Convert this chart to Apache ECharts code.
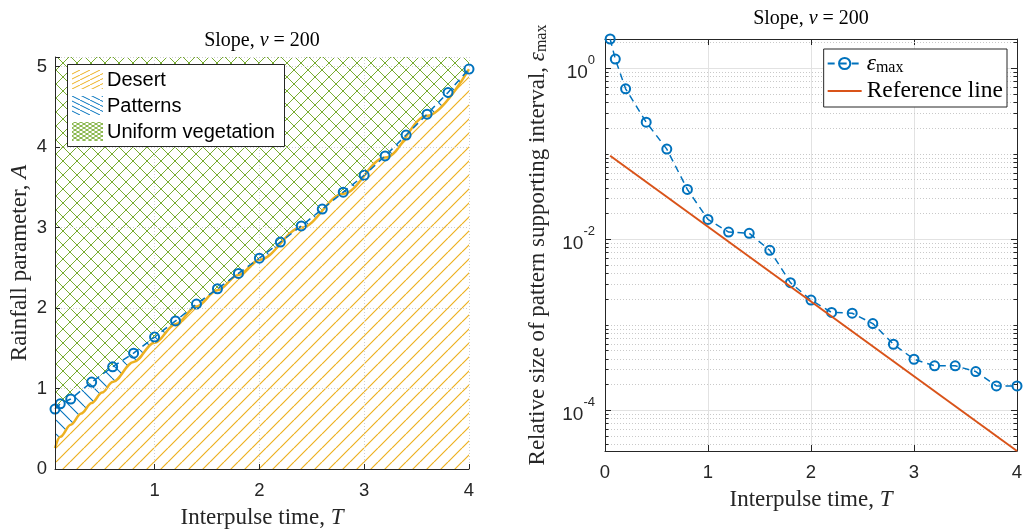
<!DOCTYPE html>
<html>
<head>
<meta charset="utf-8">
<script src="https://cdn.jsdelivr.net/npm/echarts@6/dist/echarts.min.js"></script>
<style>
  html, body { margin: 0; padding: 0; background: #fff; }
  #chart { width: 1031px; height: 530px; }
</style>
</head>
<body>
<div id="chart"></div>
<script>
// ---- data -------------------------------------------------------------
// interpulse times of the computed points
const interpulseT = [0.05, 0.1, 0.2, 0.4, 0.6, 0.8, 1.0, 1.2, 1.4, 1.6, 1.8,
                     2.0, 2.2, 2.4, 2.6, 2.8, 3.0, 3.2, 3.4, 3.6, 3.8, 4.0];
// upper edge of the pattern region (rainfall parameter A)
const patternUpperA = [0.745, 0.81, 0.87, 1.08, 1.27, 1.44, 1.64, 1.84, 2.05, 2.24, 2.43,
                       2.62, 2.82, 3.02, 3.23, 3.44, 3.65, 3.89, 4.15, 4.41, 4.68, 4.97];
// desert boundary
const desertT = [0.05, 0.1, 0.2, 0.3, 0.4, 0.5, 0.6, 0.8, 1.0, 1.2, 1.4, 1.6, 1.8,
                 2.0, 2.4, 2.8, 3.2, 3.6, 4.0];
const desertA = [0.26, 0.40, 0.55, 0.69, 0.82, 0.95, 1.08, 1.33, 1.57, 1.80, 2.02, 2.22, 2.41,
                 2.60, 3.00, 3.42, 3.87, 4.39, 4.97];
// relative size of the pattern supporting interval
const epsMax = [2.19, 1.275, 0.572, 0.233, 0.113, 0.0381, 0.0170, 0.0121, 0.0117, 0.0074, 0.0031,
                0.00194, 0.00139, 0.00136, 0.00103, 0.00059, 0.000394, 0.00033, 0.00033, 0.000283,
                0.000192, 0.000192];
// reference line end points
const refT = [0.05, 4];
const refEps = [0.0945, 3.33e-5];
// labelled decades on the log axis
const logMajorTicks = [1e-4, 1e-2, 1];

// ---- style ------------------------------------------------------------
const BLUE = '#0072BD', ORANGE = '#D95319', YELLOW = '#EDB120', GREEN = '#77AC30';
const AXIS = '#262626';
const SANS = 'Liberation Sans, Arial, sans-serif';
const SERIF = 'Liberation Serif, Times New Roman, serif';

const pairs = (xs, ys) => xs.map((x, i) => [x, ys[i]]);

// hatch tiles: '/' rising lines, '\' falling lines (anti-aliased strokes)
function hatch(w, h, color, dirs, bg, lw) {
  const c = document.createElement('canvas');
  c.width = w; c.height = h;
  const g = c.getContext('2d');
  if (bg) { g.fillStyle = bg; g.fillRect(0, 0, w, h); }
  g.strokeStyle = color;
  g.lineWidth = lw || 1;
  dirs.forEach(d => {
    g.beginPath();
    for (let k = -1; k <= 1; k++) {
      if (d === '/') { g.moveTo(k * w, h); g.lineTo(k * w + w, 0); }
      else { g.moveTo(k * w, 0); g.lineTo(k * w + w, h); }
    }
    g.stroke();
  });
  return { image: c, repeat: 'repeat' };
}
// crisp one-pixel cross hatch on a square tile
function crossHatch(n, color) {
  const c = document.createElement('canvas');
  c.width = c.height = n;
  const g = c.getContext('2d');
  g.fillStyle = color;
  for (let i = 0; i < n; i++) {
    g.fillRect(i, i, 1, 1);
    g.fillRect(i, n - 1 - i, 1, 1);
  }
  return { image: c, repeat: 'repeat' };
}
const desertFill = hatch(14, 14, YELLOW, ['/'], '#ffffff', 1.2);
const patternFill = hatch(14, 14, BLUE, ['\\'], null, 1.1);
const uniformFill = crossHatch(14, GREEN);
const desertSwatch = hatch(10, 5, YELLOW, ['/'], '#ffffff', 1);
const patternSwatch = hatch(10, 5, BLUE, ['\\'], '#ffffff', 1);
const uniformSwatch = hatch(6, 4, GREEN, ['/', '\\'], '#ffffff', 1);

// minor decade positions on the log axis (2..9 x 10^k and unlabelled decades)
const yLogMin = Math.min(...refEps, ...epsMax);
const yLogMax = Math.max(...refEps, ...epsMax);
const logGrid = [];
for (let e = -6; e <= 1; e++) {
  for (let m = 1; m <= 9; m++) {
    const v = m * Math.pow(10, e);
    if (v <= yLogMin * 1.0001 || v >= yLogMax * 0.9999) continue;
    const major = m === 1 && logMajorTicks.some(t => Math.abs(Math.log10(t) - e) < 1e-9);
    logGrid.push([0, v, major ? 1 : 0]);
  }
}

const serifRich = size => ({
  i: { fontFamily: SERIF, fontStyle: 'italic', fontSize: size, color: AXIS },
  s: { fontFamily: SERIF, fontSize: Math.round(size * 0.7), color: AXIS, padding: [Math.round(size * 0.35), 0, 0, 0] }
});

const tickLabel = { fontFamily: SANS, fontSize: 18.5, color: AXIS };

const chart = echarts.init(document.getElementById('chart'), null, { renderer: 'canvas' });

const option = {
  animation: false,
  backgroundColor: '#ffffff',
  color: [GREEN, BLUE, YELLOW, BLUE, AXIS, BLUE, ORANGE],
  grid: [
    { left: 55, top: 57, width: 414, height: 412, containLabel: false, outerBoundsMode: 'none' },
    { left: 605, top: 39, width: 412, height: 412, containLabel: false, outerBoundsMode: 'none' }
  ],
  xAxis: [
    {
      gridIndex: 0, type: 'value', min: 0.05, max: 4, minInterval: 1, maxInterval: 1, z: 4,
      name: 'Interpulse time, {i|T}', nameLocation: 'middle', nameGap: 37,
      nameTextStyle: { fontFamily: SERIF, fontSize: 23, color: AXIS, rich: serifRich(23) },
      axisLine: { show: true, onZero: false, lineStyle: { color: AXIS, width: 1 } },
      axisTick: { show: true, inside: true, length: 5, lineStyle: { color: AXIS } },
      axisLabel: Object.assign({ margin: 12, formatter: v => Number.isInteger(v) ? String(v) : '' }, tickLabel),
      splitLine: { show: true, lineStyle: { color: '#cfcfcf', type: [1, 2], width: 1 } }
    },
    {
      gridIndex: 1, type: 'value', min: 0, max: 4, interval: 1,
      name: 'Interpulse time, {i|T}', nameLocation: 'middle', nameGap: 37,
      nameTextStyle: { fontFamily: SERIF, fontSize: 23, color: AXIS, rich: serifRich(23) },
      axisLine: { show: true, onZero: false, lineStyle: { color: AXIS, width: 1 } },
      axisTick: { show: true, inside: true, length: 6, lineStyle: { color: AXIS } },
      axisLabel: Object.assign({ margin: 12 }, tickLabel),
      splitLine: { show: true, lineStyle: { color: '#e2e2e2', width: 1 } }
    },
    {
      gridIndex: 1, type: 'value', min: 0, max: 4, interval: 1, position: 'top',
      axisLine: { show: true, onZero: false, lineStyle: { color: AXIS, width: 1 } },
      axisTick: { show: true, inside: true, length: 6, lineStyle: { color: AXIS } },
      axisLabel: { show: false },
      splitLine: { show: false }
    }
  ],
  yAxis: [
    {
      gridIndex: 0, type: 'value', min: 0, max: 5.12, interval: 1, z: 4,
      name: 'Rainfall parameter, {i|A}', nameLocation: 'middle', nameGap: 24,
      nameTextStyle: { fontFamily: SERIF, fontSize: 23, color: AXIS, rich: serifRich(23) },
      axisLine: { show: true, onZero: false, lineStyle: { color: AXIS, width: 1 } },
      axisTick: { show: true, inside: true, length: 5, lineStyle: { color: AXIS } },
      axisLabel: Object.assign({ margin: 8, formatter: v => Number.isInteger(v) ? String(v) : '' }, tickLabel),
      splitLine: { show: true, lineStyle: { color: '#cfcfcf', type: [1, 2], width: 1 } }
    },
    {
      gridIndex: 1, type: 'log', logBase: 10, min: yLogMin, max: yLogMax,
      name: 'Relative size of pattern supporting interval, {i|ε}{s|max}',
      nameLocation: 'middle', nameGap: 55,
      nameTextStyle: { fontFamily: SERIF, fontSize: 23, color: AXIS, rich: serifRich(23) },
      axisLine: { show: true, onZero: false, lineStyle: { color: AXIS, width: 1 } },
      axisTick: { show: false },
      axisLabel: {
        margin: 10,
        formatter: v => {
          const e = Math.log10(v), r = Math.round(e);
          if (Math.abs(e - r) > 1e-6) return '';
          if (!logMajorTicks.some(t => Math.abs(Math.log10(t) - r) < 1e-9)) return '';
          return '{b|10}{p|' + r + '}';
        },
        rich: {
          b: { fontFamily: SANS, fontSize: 19, color: AXIS, verticalAlign: 'bottom', lineHeight: 28 },
          p: { fontFamily: SANS, fontSize: 13, color: AXIS, verticalAlign: 'top', lineHeight: 14 }
        }
      },
      splitLine: { show: false }
    },
    {
      gridIndex: 1, type: 'log', logBase: 10, min: yLogMin, max: yLogMax, position: 'right',
      axisLine: { show: true, onZero: false, lineStyle: { color: AXIS, width: 1 } },
      axisTick: { show: false }, axisLabel: { show: false }, splitLine: { show: false }
    }
  ],
  legend: {
    data: ['εmax', { name: 'Reference line', itemStyle: { opacity: 0 } }],
    orient: 'vertical', right: 24, top: 49,
    backgroundColor: '#ffffff', borderColor: AXIS, borderWidth: 1, borderRadius: 0,
    padding: [3, 4, 4, 3], itemGap: 3, itemWidth: 34, itemHeight: 14,
    selectedMode: false,
    textStyle: {
      fontFamily: SERIF, fontSize: 23.5, color: '#000',
      rich: {
        e: { fontFamily: SERIF, fontStyle: 'italic', fontSize: 23.5, color: '#000' },
        s: { fontFamily: SERIF, fontSize: 16, color: '#000', padding: [9, 0, 0, 0] }
      }
    },
    formatter: n => n === 'εmax' ? '{e|ε}{s|max}' : n
  },
  series: [
    // ---- left panel: regions ----
    {
      name: 'Uniform vegetation', type: 'line', xAxisIndex: 0, yAxisIndex: 0, z: 1,
      data: pairs(interpulseT, patternUpperA), showSymbol: false, silent: true,
      itemStyle: { color: GREEN },
      lineStyle: { width: 0, color: GREEN },
      areaStyle: { color: uniformFill, origin: 'end', opacity: 1 }
    },
    {
      name: 'Patterns', type: 'line', xAxisIndex: 0, yAxisIndex: 0, z: 1,
      data: pairs(interpulseT, patternUpperA), showSymbol: false, silent: true,
      itemStyle: { color: BLUE },
      lineStyle: { width: 0, color: BLUE },
      areaStyle: { color: patternFill, origin: 'start', opacity: 1 }
    },
    {
      name: 'Desert', type: 'line', xAxisIndex: 0, yAxisIndex: 0, z: 2,
      data: pairs(desertT, desertA), showSymbol: false, silent: true,
      smooth: 0.35, smoothMonotone: 'x',
      itemStyle: { color: YELLOW },
      lineStyle: { width: 2.5, color: YELLOW },
      areaStyle: { color: desertFill, origin: 'start', opacity: 1 }
    },
    {
      name: 'Pattern boundary', type: 'line', xAxisIndex: 0, yAxisIndex: 0, z: 3,
      data: pairs(interpulseT, patternUpperA),
      symbol: 'circle', symbolSize: 9, showSymbol: true,
      itemStyle: { color: 'rgba(0,0,0,0)', borderColor: BLUE, borderWidth: 2 },
      lineStyle: { color: BLUE, width: 1.5, type: [7, 5] }
    },
    // ---- right panel ----
    {
      name: 'log grid', type: 'custom', xAxisIndex: 1, yAxisIndex: 1, z: 1, silent: true,
      data: logGrid,
      encode: { x: 0, y: 1 },
      renderItem: (params, api) => {
        const v = api.value(1), major = api.value(2) === 1;
        const p0 = api.coord([0, v]), p1 = api.coord([4, v]);
        const y = Math.round(p0[1]) + 0.5;
        const len = major ? 6 : 3.5;
        return {
          type: 'group',
          children: [
            { type: 'line', shape: { x1: p0[0], y1: y, x2: p1[0], y2: y },
              style: { stroke: major ? '#e2e2e2' : '#c9c9c9', lineWidth: 1, lineDash: major ? null : [1, 2] } },
            { type: 'line', shape: { x1: p0[0], y1: y, x2: p0[0] + len, y2: y },
              style: { stroke: AXIS, lineWidth: 1 } },
            { type: 'line', shape: { x1: p1[0] - len, y1: y, x2: p1[0], y2: y },
              style: { stroke: AXIS, lineWidth: 1 } }
          ]
        };
      }
    },
    {
      name: 'εmax', type: 'line', xAxisIndex: 1, yAxisIndex: 1, z: 3,
      data: pairs(interpulseT, epsMax),
      symbol: 'circle', symbolSize: 9,
      itemStyle: { color: 'rgba(0,0,0,0)', borderColor: BLUE, borderWidth: 2 },
      lineStyle: { color: BLUE, width: 1.5, type: [7, 5] }
    },
    {
      name: 'Reference line', type: 'line', xAxisIndex: 1, yAxisIndex: 1, z: 4,
      data: pairs(refT, refEps), symbol: 'none',
      itemStyle: { color: ORANGE },
      lineStyle: { color: ORANGE, width: 2 }
    }
  ],
  graphic: [
    {
      type: 'text', x: 262, y: 41, z: 100,
      style: {
        text: 'Slope, {i|ν} = 200', fill: '#000',
        fontFamily: SERIF, fontSize: 20,
        align: 'center', verticalAlign: 'middle', textAlign: 'center', textVerticalAlign: 'middle',
        rich: { i: { fontFamily: SERIF, fontStyle: 'italic', fontSize: 20, fill: '#000' } }
      }
    },
    {
      type: 'text', x: 811, y: 19, z: 100,
      style: {
        text: 'Slope, {i|ν} = 200', fill: '#000',
        fontFamily: SERIF, fontSize: 20,
        align: 'center', verticalAlign: 'middle', textAlign: 'center', textVerticalAlign: 'middle',
        rich: { i: { fontFamily: SERIF, fontStyle: 'italic', fontSize: 20, fill: '#000' } }
      }
    },
    {
      type: 'group', z: 100,
      children: [
        { type: 'rect', shape: { x: 67.5, y: 64.5, width: 217, height: 82 }, z: 100,
          style: { fill: '#fff', stroke: AXIS, lineWidth: 1 } },
        { type: 'rect', shape: { x: 72, y: 70, width: 31, height: 19 }, z: 101, style: { fill: desertSwatch, stroke: null } },
        { type: 'rect', shape: { x: 72, y: 96, width: 31, height: 19 }, z: 101, style: { fill: patternSwatch, stroke: null } },
        { type: 'rect', shape: { x: 72, y: 122, width: 31, height: 19 }, z: 101, style: { fill: uniformSwatch, stroke: null } },
        { type: 'text', x: 107, y: 80.5, z: 101,
          style: { text: 'Desert', fill: '#000', fontFamily: SANS, fontSize: 20, verticalAlign: 'middle', textVerticalAlign: 'middle' } },
        { type: 'text', x: 107, y: 106.5, z: 101,
          style: { text: 'Patterns', fill: '#000', fontFamily: SANS, fontSize: 20, verticalAlign: 'middle', textVerticalAlign: 'middle' } },
        { type: 'text', x: 107, y: 132.5, z: 101,
          style: { text: 'Uniform vegetation', fill: '#000', fontFamily: SANS, fontSize: 20, verticalAlign: 'middle', textVerticalAlign: 'middle' } }
      ]
    }
  ]
};

chart.setOption(option);
</script>
</body>
</html>
